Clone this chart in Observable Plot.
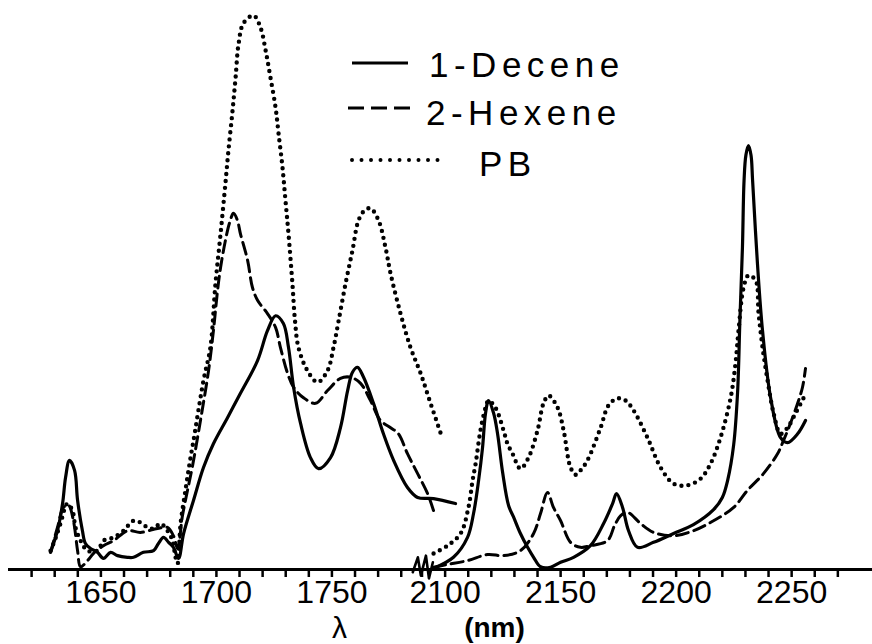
<!DOCTYPE html>
<html>
<head>
<meta charset="utf-8">
<script src="https://cdn.jsdelivr.net/npm/d3@7"></script>
<script src="https://cdn.jsdelivr.net/npm/@observablehq/plot@0.6"></script>
<style>
  body { margin: 0; background: #fff; }
  #wrap { position: relative; width: 872px; height: 644px; overflow: hidden; }
  #wrap svg { display: block; }
  #legend { position: absolute; left: 0; top: 0; pointer-events: none; }
</style>
</head>
<body>
<div id="wrap"></div>
<script>
// ---------- data: [wavelength nm, relative absorbance] ----------
const decLeft = [[1628.2,3.1],[1631.2,7.0],[1633.4,11.9],[1634.7,16.6],[1636.4,19.7],[1638.6,17.9],[1639.9,12.5],[1642.0,7.0],[1643.3,4.7],[1645.5,3.8],[1648.5,3.1],[1651.1,2.0],[1654.2,3.1],[1657.2,2.5],[1661.5,2.2],[1664.1,2.2],[1668.4,3.1],[1672.8,3.4],[1674.9,4.7],[1677.1,5.8],[1679.3,4.9],[1681.4,4.0],[1683.6,2.0],[1685.8,6.5],[1690.1,12.5],[1694.4,18.4],[1698.7,22.7],[1704.8,27.4],[1710.4,31.8],[1717.8,37.7],[1722.1,43.1],[1725.6,45.8],[1729.0,44.4],[1731.2,40.1],[1733.4,32.9],[1736.4,26.4],[1740.7,20.2],[1744.2,18.2],[1749.4,20.2],[1753.7,25.6],[1756.8,32.3],[1758.9,35.6],[1761.1,36.5],[1763.7,34.7],[1768.0,30.0],[1772.3,24.5],[1776.7,19.7],[1782.7,14.8],[1787.1,13.0],[1794.0,12.8],[1803.5,11.9]];
const decRight = [[2095,0.2],[2103.6,2.2],[2109.7,5.8],[2112.3,10.1],[2114.5,16.1],[2116.2,22.0],[2117.5,28.2],[2118.8,30.5],[2121,28.2],[2122.7,24.5],[2124.9,17.5],[2127.5,11.5],[2129.6,9.5],[2132.6,6.5],[2135.7,4.0],[2138.3,2.2],[2141.3,0.5],[2145.6,0.4],[2150,1.3],[2155.6,2.2],[2162.9,4.3],[2168.6,8.3],[2172.5,11.9],[2174.2,13.7],[2176.8,11.2],[2179.4,7.0],[2183.3,4.0],[2190.2,4.9],[2198.9,6.5],[2207.5,8.1],[2216.2,10.8],[2220.0,13.0],[2222.3,16.1],[2224.9,22.5],[2226.6,32.0],[2227.6,45.0],[2228.7,58.1],[2229.4,70.2],[2230.2,74.8],[2231.3,76.5],[2232.4,74.8],[2233.1,70.2],[2235.2,55.2],[2237.4,43.1],[2240.9,31.0],[2245.2,23.8],[2248.2,22.9],[2252.6,24.5],[2256,26.9]];

const hexLeft = [[1628.2,3.1],[1631.2,7.6],[1633.8,11.2],[1636,11.6],[1638.1,8.8],[1639.9,3.4],[1641.2,0.5],[1644.2,1.6],[1646.8,2.9],[1651.1,4.3],[1655.5,5.2],[1661.5,7.0],[1667.1,6.7],[1674.5,7.4],[1678.8,7.6],[1681.5,6.0],[1683.2,3.8],[1685.3,9.7],[1687.5,14.3],[1689.7,18.8],[1693.1,26.9],[1696.6,35.9],[1698.7,43.1],[1700.5,50.4],[1701.8,54.5],[1703.9,59.4],[1705.7,62.6],[1707.4,64.3],[1709.1,63.0],[1710.4,60.6],[1713.5,55.8],[1715.6,50.9],[1717.8,48.6],[1722.1,46.2],[1725.6,43.7],[1727.7,40.1],[1730.8,35.4],[1733.4,32.9],[1737.7,31.0],[1742.9,30.0],[1748.1,32.3],[1753.7,34.5],[1758.1,34.7],[1762.4,33.6],[1766.7,30.5],[1771,26.9],[1775.4,25.6],[1778.8,24.5],[1782.7,20.9],[1787.1,17.3],[1791.4,13.7],[1794,10.6]];
const hexRight = [[2095,0.4],[2101,0.9],[2109.7,1.6],[2118.4,2.7],[2125.3,2.5],[2132.6,3.4],[2138.3,6.5],[2141.3,10.1],[2144.3,13.9],[2146.9,11.2],[2150,8.8],[2154.3,4.9],[2158.6,4.0],[2162.9,4.3],[2170.3,5.2],[2173.3,7.9],[2175.9,9.7],[2179,10.3],[2184.6,8.3],[2190.2,6.7],[2198.9,6.1],[2207.5,7.0],[2216.2,8.8],[2224.9,11.2],[2230.9,14.3],[2237.8,17.3],[2243.9,20.9],[2246.5,23.3],[2249.5,26.4],[2252.6,30.0],[2254.7,32.9],[2256,36.3]];

const pbLeft = [[1628.2,3.4],[1630.3,5.6],[1632.5,8.3],[1635.5,11.9],[1637.7,10.6],[1639,7.6],[1641.2,5.2],[1644.2,3.4],[1648.5,3.4],[1651.1,5.2],[1655.5,5.8],[1659.8,7.0],[1664.1,8.8],[1667.1,8.5],[1670.2,7.6],[1672.8,7.4],[1675.8,8.3],[1678.8,7.0],[1681,5.2],[1682.3,2.2],[1683.2,1.1],[1684.5,8.3],[1686.6,14.3],[1688.8,20.2],[1690.1,23.3],[1694.4,34.1],[1697.4,40.1],[1699.6,51.6],[1701.8,60.6],[1703.9,69.7],[1705.2,75.6],[1707,82.9],[1708.3,88.8],[1709.6,94.9],[1711.7,98.6],[1716.1,100],[1719.1,97.8],[1721.3,93.7],[1723.4,88.8],[1725.6,83.4],[1726.9,78.7],[1728.6,72.6],[1729.9,66.6],[1731.2,60.6],[1732.9,51.6],[1734,45.0],[1735.5,40.1],[1739.4,35.9],[1743.8,33.8],[1748.1,35.9],[1750.7,40.1],[1752.9,44.9],[1755.9,51.6],[1758.9,57.6],[1761.5,63.0],[1764.1,64.8],[1766.7,65.2],[1770.2,63.0],[1773.2,58.1],[1775.4,53.4],[1779.7,46.2],[1784,40.1],[1788.4,35.4],[1792.7,30.0],[1797.9,23.6]];
const pbRight = [[2095,2.9],[2101,4.3],[2106.7,6.5],[2110.1,11.2],[2111.9,16.1],[2113.2,19.1],[2115.3,25.1],[2117.5,29.2],[2118.8,30.5],[2121.8,29.2],[2125.3,25.1],[2127,22.7],[2129.2,20.9],[2132.6,18.2],[2136.1,20.2],[2140,25.1],[2142.6,30.0],[2144.8,31.4],[2148.7,29.2],[2151.3,25.1],[2154.3,18.4],[2156.5,17.1],[2158.6,17.9],[2161.6,19.7],[2167.3,25.6],[2170.7,29.6],[2174.6,30.9],[2178.1,30.5],[2181.6,28.7],[2187.6,23.8],[2193.3,18.4],[2198.9,15.5],[2204.9,15.2],[2210.6,16.4],[2214.9,19.1],[2219.2,23.8],[2223.6,31.0],[2225.7,37.2],[2227,43.1],[2229.2,50.9],[2231.3,53.1],[2234.4,52.2],[2235.7,46.2],[2237.4,40.1],[2239.6,34.1],[2242.2,28.2],[2245.2,24.5],[2248.2,25.6],[2251.7,28.2],[2255.2,31.0]];

// axis ticks (nm) and labels
const minorTicks = [1620,1630,1640,1650,1660,1670,1680,1690,1700,1710,1720,1730,1740,1750,1760,1770,1780,
                    2090,2100,2110,2120,2130,2140,2150,2160,2170,2180,2190,2200,2210,2220,2230,2240,2250,2260,2270];
const tickLabels = [1650,1700,1750,2100,2150,2200,2250];
const seriesNames = ["1-Decene","2-Hexene","PB"];

// broken axis: wavelengths above the break are shifted left by GAP nm
const GAP = 301;
const BREAK_NM = 1785;
const toX = nm => nm > 1950 ? nm - GAP : nm;
const fromX = x => x > BREAK_NM ? x + GAP : x;
const rows = arr => arr.map(([nm, v]) => ({x: toX(nm), y: v}));

// zig-zag break mark pattern (offsets from the break, nm / absorbance units)
const breakZig = [[0,-0.5],[2.2,2.2],[3.5,-1.1],[5.7,2.5],[7,-1.6],[8.7,1.3]];

const FONT = "'Liberation Sans', Arial, Helvetica, sans-serif";
const solid = {stroke: "black", strokeWidth: 3.2, curve: "catmull-rom", strokeLinejoin: "round", strokeLinecap: "round"};
const dashed = {stroke: "black", strokeWidth: 3, curve: "catmull-rom", strokeDasharray: "12,6"};
const dotted = {stroke: "black", strokeWidth: 4.4, curve: "catmull-rom", strokeDasharray: "0,7", strokeLinecap: "round"};

const labelSet = new Set(tickLabels);

const chart = Plot.plot({
  width: 872,
  height: 644,
  marginLeft: 8,
  marginRight: 0,
  marginTop: 15,
  marginBottom: 75,
  style: {fontFamily: FONT, background: "white", color: "black"},
  x: {domain: [1610, 1984], axis: null},
  y: {domain: [0, 100], axis: null},
  marks: [
    Plot.ruleY([0], {stroke: "black", strokeWidth: 3}),
    Plot.line(breakZig.map(([dx, v]) => ({x: BREAK_NM + dx, y: v})), {x: "x", y: "y", stroke: "black", strokeWidth: 2.6}),
    Plot.axisX(minorTicks.map(toX), {
      tickSize: 8, tickPadding: 3, strokeWidth: 2.5, fontSize: 32, label: null,
      tickFormat: d => labelSet.has(fromX(d)) ? String(fromX(d)) : ""
    }),
    Plot.line(rows(pbLeft), {x: "x", y: "y", ...dotted}),
    Plot.line(rows(pbRight), {x: "x", y: "y", ...dotted}),
    Plot.line(rows(hexLeft), {x: "x", y: "y", ...dashed}),
    Plot.line(rows(hexRight), {x: "x", y: "y", ...dashed}),
    Plot.line(rows(decLeft), {x: "x", y: "y", ...solid}),
    Plot.line(rows(decRight), {x: "x", y: "y", ...solid}),
    Plot.text(["λ"], {frameAnchor: "bottom-left", dx: 331, dy: 58.4, fontSize: 30, textAnchor: "middle", lineAnchor: "middle"}),
    Plot.text(["(nm)"], {frameAnchor: "bottom-left", dx: 486, dy: 59, fontSize: 28, fontWeight: "bold", textAnchor: "middle", lineAnchor: "middle", letterSpacing: "5px"})
  ]
});

const wrap = document.getElementById("wrap");
wrap.appendChild(chart);

// legend overlay
const lg = d3.select(wrap).append("svg").attr("id", "legend")
  .attr("width", 872).attr("height", 644)
  .style("font-family", FONT);
const legendItems = [
  {name: seriesNames[0], x1: 352, x2: 408, y: 63, tx: 429, ty: 77, dash: null, w: 3.2},
  {name: seriesNames[1], x1: 348, x2: 412, y: 108, tx: 426, ty: 125, dash: "16,7", w: 3.2},
  {name: seriesNames[2], x1: 352, x2: 447, y: 160, tx: 479, ty: 176, dash: "0,9.5", w: 4}
];
for (const it of legendItems) {
  lg.append("line").attr("x1", it.x1).attr("x2", it.x2).attr("y1", it.y).attr("y2", it.y)
    .attr("stroke", "black").attr("stroke-width", it.w)
    .attr("stroke-dasharray", it.dash).attr("stroke-linecap", it.dash === "0,9.5" ? "round" : "butt");
  lg.append("text").attr("x", it.tx).attr("y", it.ty).attr("font-size", 35)
    .attr("letter-spacing", "5.5px").attr("fill", "black").text(it.name);
}
</script>
</body>
</html>
